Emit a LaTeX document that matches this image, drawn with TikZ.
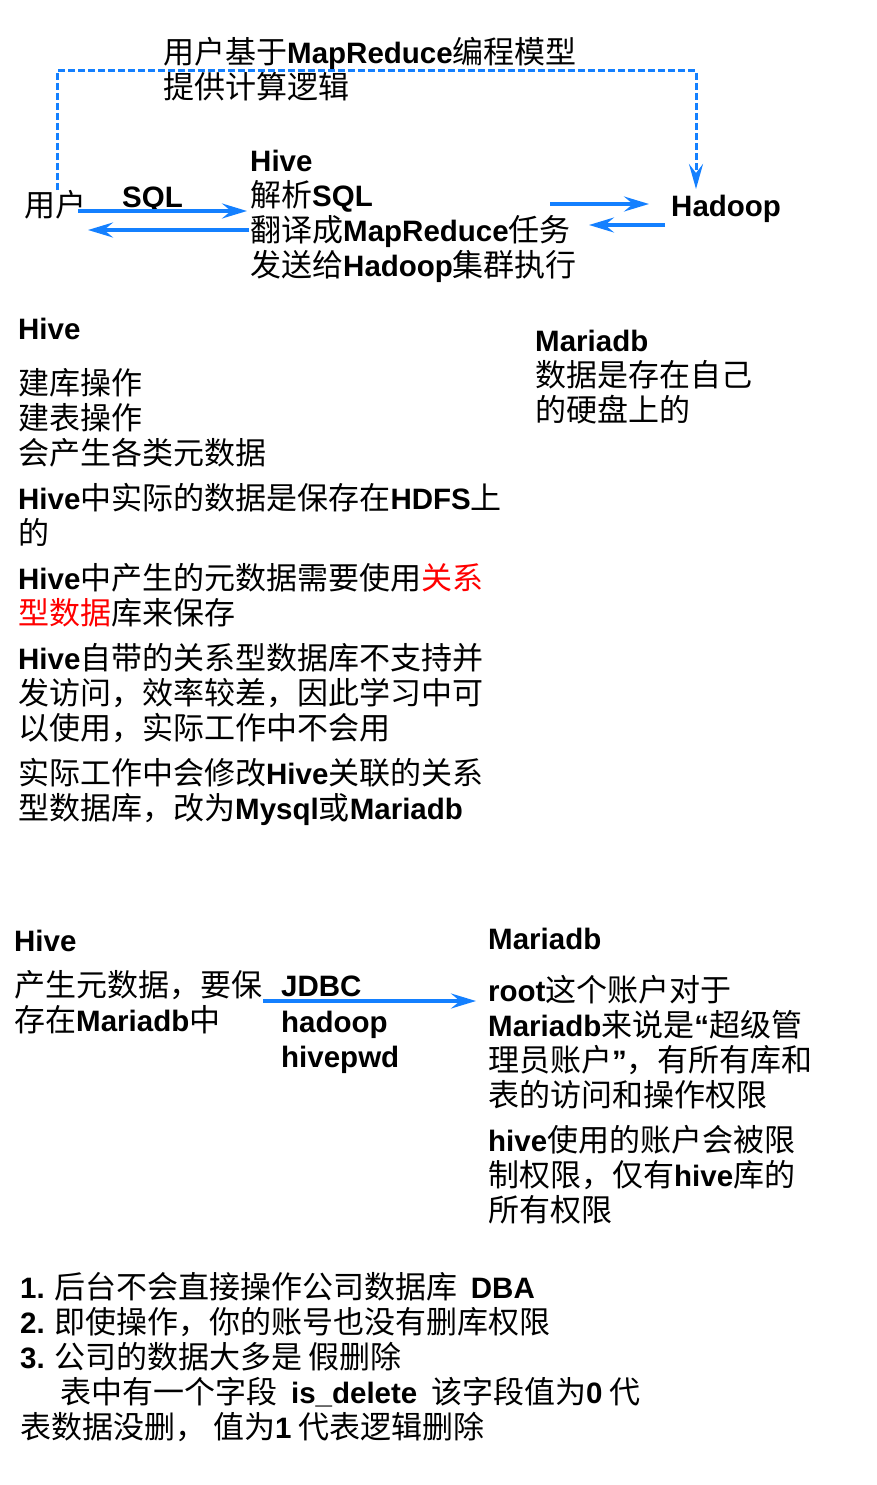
\documentclass[tikz,border=0pt]{standalone}
\usepackage{fontspec}
\setmainfont{Noto Sans CJK SC}
\newfontfamily\lat{Liberation Sans}
\usetikzlibrary{arrows.meta}
\definecolor{arrblue}{RGB}{20,128,255}
\newcommand\E[1]{{\lat\bfseries\fontsize{29.5}{35}\selectfont #1}}
\tikzset{
  txt/.style={anchor=base west, inner sep=0pt, font=\fontsize{31}{35}\selectfont},
  arr/.style={draw=arrblue, line width=3.2pt, -{Stealth[length=25pt,width=15pt,inset=9pt]}},
  darr/.style={draw=arrblue, line width=3pt, dash pattern=on 7pt off 3pt, -{Stealth[length=25pt,width=14pt,inset=9pt]}}
}
\begin{document}
\begin{tikzpicture}[x=1pt,y=-1pt]
\useasboundingbox[fill=white] (0,0) rectangle (876,1485);
% ---------- top diagram ----------
\node[txt] (t1) at (163,64) {用户基于\E{MapReduce}编程模型};
\node[txt] (t2) at (163,99) {提供计算逻辑};
\node[txt] (user) at (24,216) {用户};
\node[txt] (sql) at (122,207) {\E{SQL}};
\node[txt] (h1) at (250,171) {\E{Hive}};
\node[txt] (h2) at (250,206) {解析\E{SQL}};
\node[txt] (h3) at (250,241) {翻译成\E{MapReduce}任务};
\node[txt] (h4) at (250,276) {发送给\E{Hadoop}集群执行};
\node[txt] (hadoop) at (671,216) {\E{Hadoop}};
\coordinate (dA) at (57,190);
\coordinate (dB) at (696,189);
\draw[darr] (dA) -- ++(0,-119) -| (dB);
\coordinate (s1) at (78,211);
\coordinate (s2) at (247,211);
\coordinate (r1) at (249,230);
\coordinate (r2) at (88,230);
\coordinate (k1) at (550,204);
\coordinate (k2) at (649,204);
\coordinate (b1) at (665,225);
\coordinate (b2) at (589,225);
\draw[arr] (s1) -- (s2);
\draw[arr] (r1) -- (r2);
\draw[arr] (k1) -- (k2);
\draw[arr] (b1) -- (b2);
% ---------- middle text ----------
\node[txt] (m0) at (18,339) {\E{Hive}};
\node[txt] (m1) at (18,394) {建库操作};
\node[txt] (m2) at (18,429) {建表操作};
\node[txt] (m3) at (18,464) {会产生各类元数据};
\node[txt] (m4) at (18,509) {\E{Hive}中实际的数据是保存在\E{HDFS}上};
\node[txt] (m5) at (18,544) {的};
\node[txt] (m6) at (18,589) {\E{Hive}中产生的元数据需要使用\textcolor{red}{关系}};
\node[txt] (m7) at (18,624) {\textcolor{red}{型数据}库来保存};
\node[txt] (m8) at (18,669) {\E{Hive}自带的关系型数据库不支持并};
\node[txt] (m9) at (18,704) {发访问，效率较差，因此学习中可};
\node[txt] (m10) at (18,739) {以使用，实际工作中不会用};
\node[txt] (m11) at (18,784) {实际工作中会修改\E{Hive}关联的关系};
\node[txt] (m12) at (18,819) {型数据库，改为\E{Mysql}或\E{Mariadb}};
\node[txt] (n0) at (535,351) {\E{Mariadb}};
\node[txt] (n1) at (535,386) {数据是存在自己};
\node[txt] (n2) at (535,421) {的硬盘上的};
% ---------- lower diagram ----------
\node[txt] (p0) at (14,951) {\E{Hive}};
\node[txt] (p1) at (14,996) {产生元数据，要保};
\node[txt] (p2) at (14,1031) {存在\E{Mariadb}中};
\node[txt] (j1) at (281,996) {\E{JDBC}};
\node[txt] (j2) at (281,1032) {\E{hadoop}};
\node[txt] (j3) at (281,1067) {\E{hivepwd}};
\coordinate (ja) at (263,1001);
\coordinate (jb) at (476,1001);
\draw[arr] (ja) -- (jb);
\node[txt] (q0) at (488,949) {\E{Mariadb}};
\node[txt] (q1) at (488,1001) {\E{root}这个账户对于};
\node[txt] (q2) at (488,1036) {\E{Mariadb}来说是\E{“}超级管};
\node[txt] (q3) at (488,1071) {理员账户\E{”}，有所有库和};
\node[txt] (q4) at (488,1106) {表的访问和操作权限};
\node[txt] (q5) at (488,1151) {\E{hive}使用的账户会被限};
\node[txt] (q6) at (488,1186) {制权限，仅有\E{hive}库的};
\node[txt] (q7) at (488,1221) {所有权限};
% ---------- bottom list ----------
\node[txt] (l1) at (20,1298) {\E{1.} 后台不会直接操作公司数据库\ \ \E{DBA}};
\node[txt] (l2) at (20,1333) {\E{2.} 即使操作，你的账号也没有删库权限};
\node[txt] (l3) at (20,1368) {\E{3.} 公司的数据大多是 假删除};
\node[txt] (l4) at (60,1403) {表中有一个字段\ \ \E{is\_delete}\ \ 该字段值为\E{0} 代};
\node[txt] (l5) at (20,1438) {表数据没删，\ 值为\E{1} 代表逻辑删除};
\end{tikzpicture}
\end{document}
